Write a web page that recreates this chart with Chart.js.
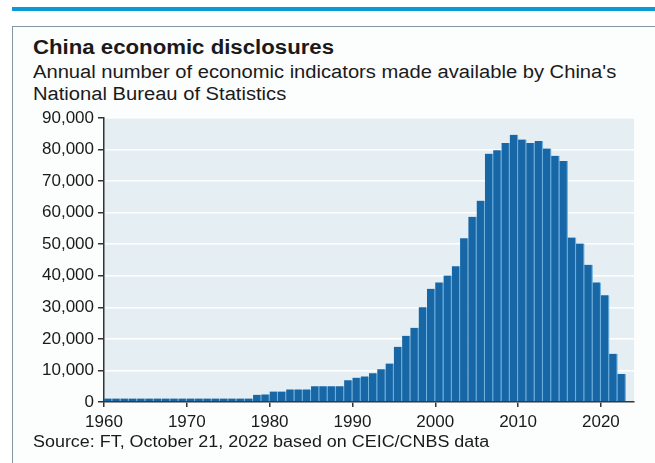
<!DOCTYPE html>
<html lang="en">
<head>
  <meta charset="UTF-8">
  <title>China economic disclosures</title>
  <script src="https://cdn.jsdelivr.net/npm/chart.js"></script>
  <style>
    body { margin: 0; background: #fff; }
    #wrap { position: relative; width: 655px; height: 463px; overflow: hidden; font-family: "Liberation Sans", Arial, sans-serif; color: #1a1a1a; }
    #topline { position: absolute; left: 12px; top: 7px; width: 643px; height: 4px; background: #0a9ad8; }
    #frame { position: absolute; left: 12px; top: 26px; width: 660px; height: 460px; border: 1px solid #8497a1; background: #fcfdfd; }
    .txt { position: absolute; left: 33px; white-space: nowrap; transform-origin: left top; }
    #title { top: 36px; font-size: 20px; font-weight: bold; transform: scaleX(1.11); }
    #sub1 { top: 62px; font-size: 18px; transform: scaleX(1.12); }
    #sub2 { top: 84px; font-size: 18px; transform: scaleX(1.12); }
    #source { top: 433px; font-size: 16px; transform: scaleX(1.12); }
    canvas { position: absolute; left: 0; top: 0; }
  </style>
</head>
<body>
  <div id="wrap">
    <div id="topline"></div>
    <div id="frame"></div>
    <div class="txt" id="title">China economic disclosures</div>
    <div class="txt" id="sub1">Annual number of economic indicators made available by China's</div>
    <div class="txt" id="sub2">National Bureau of Statistics</div>
    <canvas id="chart" width="655" height="463"></canvas>
    <div class="txt" id="source">Source: FT, October 21, 2022 based on CEIC/CNBS data</div>
  </div>

  <script>
    // years 1960..2022
    const years = [];
    for (let y = 1960; y <= 2022; y++) years.push(y);

    // indicators published per year
    const indicators = [
      1100, 1100, 1100, 1100, 1100, 1100, 1100, 1100, 1100, 1100,   // 1960s
      1100, 1100, 1100, 1100, 1100, 1100, 1100, 1100, 2300, 2400,   // 1970s
      3300, 3300, 4000, 4000, 4000, 5000, 5000, 5000, 5000, 6900,   // 1980s
      7700, 8100, 9100, 10400, 12200, 17500, 21000, 23500, 30000, 35900, // 1990s
      37900, 40100, 43000, 51900, 58700, 63800, 78700, 79800, 82100, 84700, // 2000s
      83200, 82100, 82700, 80300, 78000, 76400, 52100, 50200, 43500, 37900, // 2010s
      33800, 15300, 8900                                                    // 2020s
    ];

    const yTicks = [0, 10000, 20000, 30000, 40000, 50000, 60000, 70000, 80000, 90000];
    const xTicks = [1960, 1970, 1980, 1990, 2000, 2010, 2020];

    const plotBg = {
      id: 'plotBg',
      beforeDraw(chart) {
        const { ctx, chartArea: a } = chart;
        ctx.save();
        ctx.fillStyle = '#e5eef3';
        ctx.fillRect(a.left, a.top, a.right - a.left, a.bottom - a.top);
        ctx.restore();
      }
    };

    const axisFont = { family: '"Liberation Sans", Arial, sans-serif', size: 17 };

    new Chart(document.getElementById('chart'), {
      type: 'bar',
      data: {
        datasets: [{
          data: years.map((y, i) => ({ x: y + 0.5, y: indicators[i] })),
          backgroundColor: '#1767a6',
          borderColor: '#72b4e2',
          borderWidth: { left: 0, right: 1.3, top: 0, bottom: 0 },
          borderSkipped: false,
          barPercentage: 1,
          categoryPercentage: 1
        }]
      },
      options: {
        responsive: false,
        animation: false,
        devicePixelRatio: 1,
        layout: { padding: { top: 118, left: 0, right: 21, bottom: 0 } },
        plugins: { legend: { display: false }, tooltip: { enabled: false } },
        scales: {
          x: {
            type: 'linear',
            min: 1960,
            max: 2024,
            offset: false,
            afterFit(s) { s.height = 61; },
            afterBuildTicks(s) { s.ticks = xTicks.map(v => ({ value: v })); },
            ticks: { color: '#1a1a1a', font: { family: axisFont.family, size: 17 }, padding: 5, maxRotation: 0, autoSkip: false, callback: v => String(v) },
            grid: { offset: false, drawOnChartArea: false, tickLength: 5, tickColor: '#333', lineWidth: 1.5 },
            border: { color: '#333', width: 1.5 }
          },
          y: {
            min: 0,
            max: 90000,
            afterFit(s) { s.width = 104; },
            afterBuildTicks(s) { s.ticks = yTicks.map(v => ({ value: v })); },
            ticks: { color: '#1a1a1a', font: axisFont, padding: 4, callback: v => v.toLocaleString('en-US') },
            grid: { color: '#ffffff', lineWidth: 1.5, tickColor: '#333', tickLength: 6 },
            border: { color: '#333', width: 1.5 }
          }
        }
      },
      plugins: [plotBg]
    });
  </script>
</body>
</html>
